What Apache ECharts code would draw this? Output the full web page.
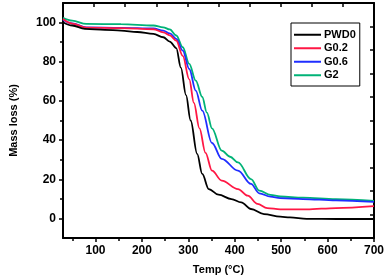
<!DOCTYPE html>
<html>
<head>
<meta charset="utf-8">
<script src="https://cdn.jsdelivr.net/npm/echarts@6/dist/echarts.min.js"></script>
<style>html,body{margin:0;padding:0;background:#fff}#c{width:387px;height:280px}</style>
</head>
<body>
<div id="c"></div>
<script>
var seriesNames = ['PWD0', 'G0.2', 'G0.6', 'G2'];
var xTickLabels = [100, 200, 300, 400, 500, 600, 700];
var xMinorTicks = [50, 150, 250, 350, 450, 550, 650];
var yTickLabels = [0, 20, 40, 60, 80, 100];
var yMinorTicks = [10, 30, 50, 70, 90];

var tempPWD0 = [30, 50, 77, 120, 155, 190, 225, 246, 260, 274, 284, 295, 305, 319, 330, 344, 365, 393, 414, 435, 463, 498, 519, 555, 620, 700];
var massPWD0 = [100.2, 98.5, 96.8, 96.3, 95.9, 95.2, 94.2, 92.5, 90.3, 87, 77, 63, 50, 33, 22.7, 15, 12.1, 9.9, 8.2, 4.8, 2.2, 0.9, 0.5, -0.2, -0.3, -0.3];

var tempG02 = [30, 50, 80, 155, 225, 246, 260, 274, 288, 302, 312, 324, 337, 351, 372, 407, 428, 449, 470, 498, 555, 618, 700];
var massG02 = [101.8, 99.5, 97.4, 97.2, 96.6, 95, 93.5, 90.8, 83, 71, 59, 46, 33.5, 24.4, 19.3, 15, 11.6, 7.4, 5.3, 4.6, 4.6, 5.3, 6.3];

var tempG06 = [30, 50, 80, 155, 225, 246, 260, 274, 288, 302, 316, 330, 351, 372, 407, 435, 453, 477, 498, 547, 618, 700];
var massG06 = [101.5, 99.6, 97.5, 97.3, 97.0, 95.9, 94.5, 91.7, 85.7, 76.3, 65.3, 55, 38.5, 30.4, 24.4, 17.6, 12.8, 11.1, 10.4, 9.9, 9.2, 8.4];

var tempG2 = [30, 50, 80, 155, 225, 246, 260, 274, 288, 302, 316, 330, 340, 351, 372, 390, 407, 435, 453, 477, 498, 547, 618, 700];
var massG2 = [102.4, 101, 99.3, 99.2, 98.5, 97.6, 96.5, 93.4, 87.4, 78.9, 70.4, 62, 54, 46, 34.6, 31.5, 28.6, 20.1, 14.2, 12, 11.2, 10.6, 9.8, 9.0];

var colors = ['#000000', '#ff1744', '#1f2eff', '#00b377'];
function zip(a, b) { return a.map(function (v, i) { return [v, b[i]]; }); }
var allData = [zip(tempPWD0, massPWD0), zip(tempG02, massG02), zip(tempG06, massG06), zip(tempG2, massG2)];

var FONT = 'Liberation Sans';
var chart = echarts.init(document.getElementById('c'));
var option = {
  animation: false,
  backgroundColor: '#fff',
  grid: { left: 57, right: 12, top: 3, bottom: 42 },
  legend: {
    orient: 'vertical', left: 291, top: 23,
    data: seriesNames,
    icon: 'rect',
    borderColor: '#000', borderWidth: 1,
    padding: [5, 4, 4, 3],
    itemWidth: 27, itemHeight: 2, itemGap: 0,
    textStyle: { fontFamily: FONT, fontWeight: 'bold', fontSize: 11, color: '#000', lineHeight: 13.5, padding: [0, 0, 0, -2] }
  },
  xAxis: [
    {
      type: 'value', min: 30, max: 700, position: 'bottom',
      name: 'Temp (°C)', nameLocation: 'middle', nameGap: 26,
      nameTextStyle: { fontFamily: FONT, fontWeight: 'bold', fontSize: 11, color: '#000' },
      axisLine: { onZero: false, lineStyle: { color: '#000', width: 2 } },
      axisTick: { show: true, inside: false, length: 4, lineStyle: { color: '#000', width: 1.5 }, customValues: xTickLabels },
      axisLabel: { fontFamily: FONT, fontWeight: 'bold', fontSize: 12, color: '#000', margin: 7, customValues: xTickLabels },
      splitLine: { show: false }
    },
    {
      type: 'value', min: 30, max: 700, position: 'bottom',
      axisLine: { show: false, onZero: false },
      axisTick: { show: true, inside: false, length: 3, lineStyle: { color: '#000', width: 1.5 }, customValues: xMinorTicks },
      axisLabel: { show: false },
      splitLine: { show: false }
    },
    {
      type: 'value', min: 0, max: 10, interval: 1, position: 'top',
      axisLine: { onZero: false, lineStyle: { color: '#000', width: 2 } },
      axisTick: { show: true, inside: true, length: 4, lineStyle: { color: '#000', width: 1.5 } },
      axisLabel: { show: false },
      splitLine: { show: false }
    }
  ],
  yAxis: [
    {
      type: 'value', min: -10, max: 110, position: 'left',
      name: 'Mass loss (%)', nameLocation: 'middle', nameGap: 44,
      nameTextStyle: { fontFamily: FONT, fontWeight: 'bold', fontSize: 11, color: '#000' },
      axisLine: { onZero: false, lineStyle: { color: '#000', width: 2 } },
      axisTick: { show: true, inside: false, length: 4, lineStyle: { color: '#000', width: 1.5 }, customValues: yTickLabels },
      axisLabel: { fontFamily: FONT, fontWeight: 'bold', fontSize: 12, color: '#000', margin: 7, customValues: yTickLabels },
      splitLine: { show: false }
    },
    {
      type: 'value', min: -10, max: 110, position: 'left',
      axisLine: { show: false, onZero: false },
      axisTick: { show: true, inside: false, length: 3, lineStyle: { color: '#000', width: 1.5 }, customValues: yMinorTicks },
      axisLabel: { show: false },
      splitLine: { show: false }
    },
    {
      type: 'value', min: 0, max: 10, interval: 1, position: 'right',
      axisLine: { onZero: false, lineStyle: { color: '#000', width: 2 } },
      axisTick: { show: true, inside: true, length: 4, lineStyle: { color: '#000', width: 1.5 } },
      axisLabel: { show: false },
      splitLine: { show: false }
    }
  ],
  series: seriesNames.map(function (n, i) {
    return {
      name: n, type: 'line', xAxisIndex: 0, yAxisIndex: 0,
      data: allData[i], symbol: 'none', showSymbol: false,
      smooth: 0.35, smoothMonotone: 'x',
      color: colors[i],
      lineStyle: { color: colors[i], width: 1.8 },
      z: 10 - i
    };
  })
};
chart.setOption(option);
</script>
</body>
</html>
